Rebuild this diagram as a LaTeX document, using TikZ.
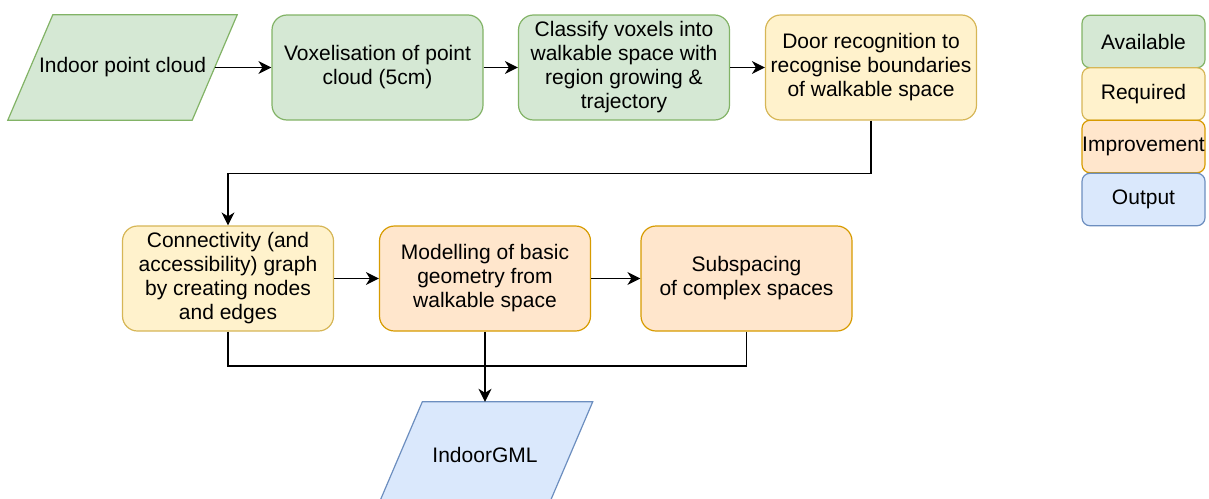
\documentclass[tikz,border=0pt]{standalone}
\usepackage{fontspec}
\setmainfont{Liberation Sans}
\usetikzlibrary{positioning,arrows.meta,backgrounds}
\definecolor{availfill}{HTML}{D5E8D4}
\definecolor{availline}{HTML}{82B366}
\definecolor{reqfill}{HTML}{FFF2CC}
\definecolor{reqline}{HTML}{D6B656}
\definecolor{imprfill}{HTML}{FFE6CC}
\definecolor{imprline}{HTML}{D79B00}
\definecolor{outfill}{HTML}{DAE8FC}
\definecolor{outline}{HTML}{6C8EBF}

\begin{document}
\begin{tikzpicture}[x=1pt,y=-1pt,
  procbox/.style={draw,rounded corners=15pt,line width=1.2pt,align=center,
    minimum width=211pt,minimum height=105pt,inner sep=0pt,
    font=\fontsize{21}{24}\selectfont},
  iobox/.style={minimum height=105pt,inner sep=0pt,
    font=\fontsize{21}{24}\selectfont},
  slanted/.style={line width=1.2pt,line join=miter},
  keybox/.style={draw,rounded corners=8pt,line width=1.2pt,minimum width=123pt,
    minimum height=52.5pt,inner sep=0pt,font=\fontsize{21}{24}\selectfont},
  avail/.style={fill=availfill,draw=availline},
  req/.style={fill=reqfill,draw=reqline},
  impr/.style={fill=imprfill,draw=imprline},
  outp/.style={fill=outfill,draw=outline},
  flow/.style={line width=1.5pt,-{Stealth[length=13pt,width=13pt,inset=4pt]}},
  link/.style={line width=1.5pt}]
\useasboundingbox (0,0) rectangle (1209,498);

% first row
\node[iobox,minimum width=184pt] (cloud) at (122.5,67.5) {Indoor point cloud};
\node[procbox,avail] (voxel) at (377.5,67.5) {Voxelisation of point\\cloud (5cm)};
\node[procbox,avail] (classify) at (624,67.5) {Classify voxels into\\walkable space with\\region growing \&\\trajectory};
\node[procbox,req] (door) at (871,67.5) {Door recognition to\\recognise boundaries\\of walkable space};

% second row
\node[procbox,req] (graph) at (228,278.5) {Connectivity (and\\accessibility) graph\\by creating nodes\\and edges};
\node[procbox,impr] (geometry) at (485,278.5) {Modelling of basic\\geometry from\\walkable space};
\node[procbox,impr] (subspace) at (746.5,278.5) {Subspacing\\of complex spaces};

% output
\node[iobox,minimum width=170pt] (gml) at (485,454.5) {IndoorGML};

% parallelograms behind the input and output texts
\begin{scope}[on background layer]
\draw[slanted,avail] ([xshift=22.5pt]cloud.north west) -- ([xshift=22.5pt]cloud.north east)
  -- ([xshift=-22.5pt]cloud.south east) -- ([xshift=-22.5pt]cloud.south west) -- cycle;
\draw[slanted,outp] ([xshift=22.5pt]gml.north west) -- ([xshift=22.5pt]gml.north east)
  -- ([xshift=-22.5pt]gml.south east) -- ([xshift=-22.5pt]gml.south west) -- cycle;
\end{scope}

% legend
\node[keybox,avail] (kavail) at (1143.5,41.5) {Available};
\node[keybox,req] (kreq) at (1143.5,94) {Required};
\node[keybox,impr] (kimpr) at (1143.5,146.5) {Improvement};
\node[keybox,outp] (kout) at (1143.5,199.5) {Output};

% connectors
\draw[flow] (cloud.east) -- (voxel.west);
\draw[flow] (voxel) -- (classify);
\draw[flow] (classify) -- (door);
\draw[flow] (door.south) -- ++(0,53) -| (graph.north);
\draw[flow] (graph) -- (geometry);
\draw[flow] (geometry) -- (subspace);
\coordinate (merge) at (485,366);
\draw[link] (graph.south) |- (merge);
\draw[link] (subspace.south) |- (merge);
\draw[flow] (geometry.south) -- (gml.north);
\end{tikzpicture}
\end{document}
